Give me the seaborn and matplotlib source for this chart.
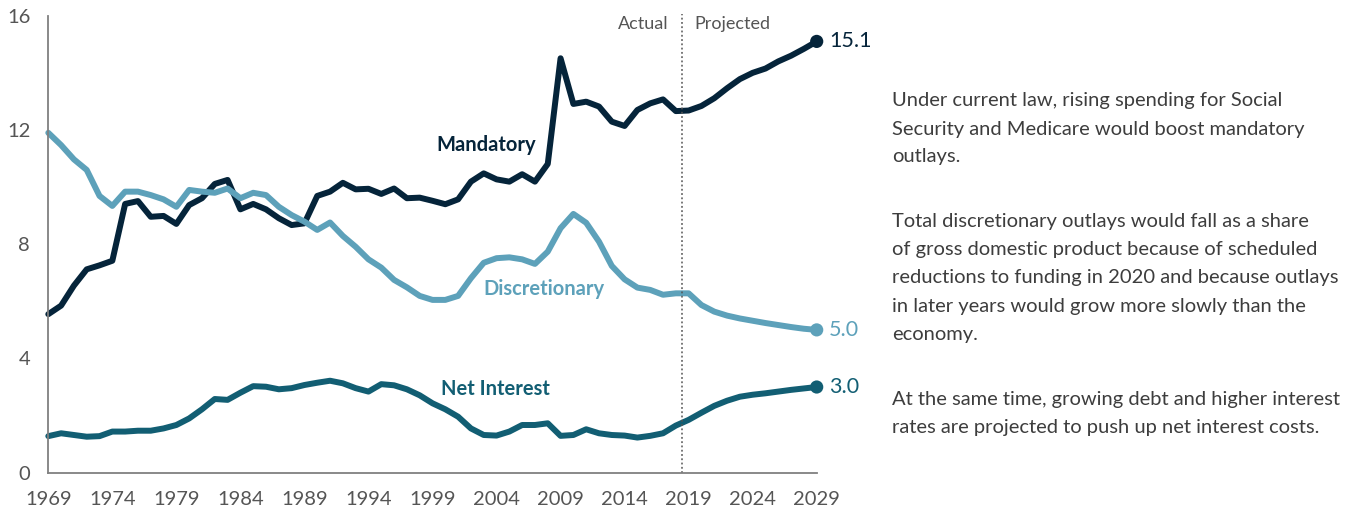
import matplotlib
matplotlib.use("Agg")
import matplotlib.pyplot as plt
import numpy as np
import pandas as pd
import seaborn as sns

# Federal outlays by category, percentage of GDP, fiscal years 1969-2029
years = list(range(1969, 2030))

mandatory = [
    5.55, 5.85, 6.55, 7.12, 7.26, 7.42, 9.41, 9.51, 8.96, 8.99,
    8.71, 9.37, 9.61, 10.11, 10.25, 9.22, 9.41, 9.22, 8.91, 8.67,
    8.73, 9.69, 9.84, 10.15, 9.92, 9.94, 9.76, 9.95, 9.61, 9.63,
    9.52, 9.40, 9.57, 10.19, 10.48, 10.27, 10.19, 10.45, 10.19, 10.81,
    14.51, 12.91, 12.99, 12.82, 12.29, 12.14, 12.70, 12.93, 13.07, 12.66,
    12.68, 12.84, 13.11, 13.46, 13.78, 14.00, 14.15, 14.40, 14.60, 14.84,
    15.1,
]

discretionary = [
    11.9, 11.47, 10.97, 10.6, 9.69, 9.34, 9.84, 9.84, 9.72, 9.57,
    9.31, 9.90, 9.84, 9.80, 9.95, 9.61, 9.80, 9.72, 9.31, 9.02,
    8.79, 8.50, 8.76, 8.29, 7.91, 7.47, 7.18, 6.75, 6.49, 6.19,
    6.05, 6.05, 6.19, 6.81, 7.35, 7.51, 7.54, 7.47, 7.31, 7.74,
    8.56, 9.06, 8.75, 8.09, 7.24, 6.77, 6.48, 6.40, 6.23, 6.28,
    6.28, 5.87, 5.64, 5.50, 5.40, 5.32, 5.24, 5.17, 5.10, 5.04,
    5.0,
]

net_interest = [
    1.28, 1.38, 1.32, 1.26, 1.28, 1.44, 1.44, 1.47, 1.47, 1.55,
    1.67, 1.90, 2.22, 2.58, 2.55, 2.80, 3.03, 3.01, 2.92, 2.96,
    3.07, 3.15, 3.22, 3.13, 2.96, 2.84, 3.10, 3.06, 2.92, 2.71,
    2.43, 2.22, 1.96, 1.55, 1.32, 1.30, 1.44, 1.67, 1.67, 1.73,
    1.29, 1.32, 1.52, 1.38, 1.32, 1.30, 1.23, 1.29, 1.38, 1.65,
    1.85, 2.10, 2.34, 2.52, 2.66, 2.73, 2.78, 2.84, 2.90, 2.95,
    3.0,
]

categories = ["Mandatory", "Discretionary", "Net Interest"]
colors = {"Mandatory": "#05243a", "Discretionary": "#5da1ba", "Net Interest": "#125e73"}
x_ticks = list(range(1969, 2030, 5))
y_ticks = [0, 4, 8, 12, 16]
split_year = 2018.5

notes = [
    ["Under current law, rising spending for Social",
     "Security and Medicare would boost mandatory",
     "outlays."],
    ["Total discretionary outlays would fall as a share",
     "of gross domestic product because of scheduled",
     "reductions to funding in 2020 and because outlays",
     "in later years would grow more slowly than the",
     "economy."],
    ["At the same time, growing debt and higher interest",
     "rates are projected to push up net interest costs."],
]

df = pd.DataFrame({
    "year": years * 3,
    "value": mandatory + discretionary + net_interest,
    "category": sum([[c] * len(years) for c in categories], []),
})

sns.set_theme(style="white")
plt.rcParams["font.family"] = ["Lato", "DejaVu Sans"]
plt.rcParams["lines.solid_joinstyle"] = "round"

fig = plt.figure(figsize=(13.55, 5.12), dpi=100)
ax = fig.add_axes([48.3 / 1355, 1 - 472.7 / 512, 768.4 / 1355, 457 / 512])

sns.lineplot(data=df, x="year", y="value", hue="category", hue_order=categories,
             palette=colors, linewidth=4.3, legend=False, ax=ax, clip_on=False)

last = df[df["year"] == years[-1]]
sns.scatterplot(data=last, x="year", y="value", hue="category", hue_order=categories,
                palette=colors, s=90, linewidth=0, legend=False, ax=ax, clip_on=False, zorder=5)

for _, row in last.iterrows():
    ax.annotate(f"{row['value']:.1f}", (row["year"], row["value"]),
                xytext=(9, 0), textcoords="offset points", va="center", ha="left",
                fontsize=15.5, color=colors[row["category"]], annotation_clip=False)

# series names
ax.text(2003.2, 11.47, "Mandatory", color=colors["Mandatory"], fontsize=14.5,
        fontweight="bold", ha="center", va="center")
ax.text(2007.7, 6.43, "Discretionary", color=colors["Discretionary"], fontsize=14.5,
        fontweight="bold", ha="center", va="center")
ax.text(2003.9, 2.93, "Net Interest", color=colors["Net Interest"], fontsize=14.5,
        fontweight="bold", ha="center", va="center")

# actual / projected divider
ax.plot([split_year, split_year], [0, 16.05], color="#555555", linestyle=(0, (1.2, 1.6)),
        linewidth=1.1, clip_on=False)
ax.annotate("Actual", (split_year, 15.7), xytext=(-10, 0), textcoords="offset points",
            ha="right", va="center", fontsize=13, color="#555555")
ax.annotate("Projected", (split_year, 15.7), xytext=(9, 0), textcoords="offset points",
            ha="left", va="center", fontsize=13, color="#555555")

ax.set_xlim(1969, 2029)
ax.set_ylim(0, 16)
ax.set_xticks(x_ticks)
ax.set_yticks(y_ticks)
ax.set_xlabel("")
ax.set_ylabel("")
for side in ["top", "right"]:
    ax.spines[side].set_visible(False)
for side in ["left", "bottom"]:
    ax.spines[side].set_color("#808080")
    ax.spines[side].set_linewidth(1.3)
ax.tick_params(axis="both", direction="in", length=6, width=1.2, color="#808080",
               labelsize=14.5, labelcolor="#555555")
ax.tick_params(axis="y", pad=13)
ax.tick_params(axis="x", pad=13)

# commentary on the right
baselines = [[106, 134.5, 162], [227, 255, 283.5, 312, 340], [405, 433.5]]
for para, ys in zip(notes, baselines):
    for line, yb in zip(para, ys):
        fig.text(892 / 1355, 1 - yb / 512, line, ha="left", va="baseline",
                 fontsize=14.5, color="#3d3d3d")

fig.savefig("out.png", dpi=100)
